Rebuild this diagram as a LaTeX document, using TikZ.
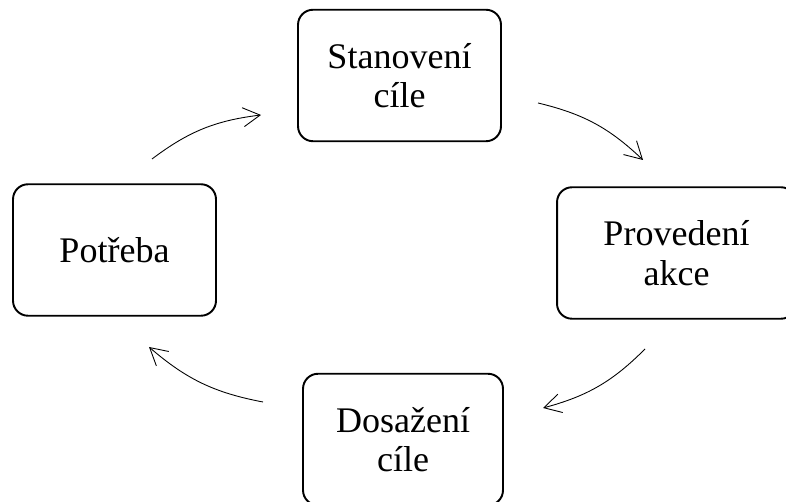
\documentclass[tikz,border=0pt]{standalone}
\usepackage{fontspec}
\setmainfont{Liberation Serif}
\usetikzlibrary{arrows.meta,calc}

\tikzset{
  phase/.style={draw, line width=1.1pt, rounded corners=0.3cm, align=center,
    minimum width=4.06cm, minimum height=2.63cm, inner sep=0pt,
    font=\fontsize{20.5}{22.5}\selectfont},
  cycle arrow/.style={-{Straight Barb[length=3.4mm,width=3.8mm]}, line width=0.5pt}
}

\begin{document}
\begin{tikzpicture}[x=0.02cm, y=0.02cm]
  \useasboundingbox (0,0) rectangle (786,502);
  \node[phase] (cil) at (399.5,426.5) {Stanovení\\cíle};
  \node[phase] (potreba) at (114.5,252) {Potřeba};
  \node[phase, minimum width=4.78cm] (akce) at (676.5,249) {Provedení\\akce};
  \node[phase, minimum width=4.0cm] (dosazeni) at (403,62.5) {Dosažení\\cíle};
  \coordinate (A) at (152,343);
  \coordinate (B) at (261,387);
  \coordinate (C) at (538,399);
  \coordinate (D) at (643,342);
  \coordinate (E) at (645,153);
  \coordinate (F) at (543,94);
  \coordinate (G) at (263,100);
  \coordinate (H) at (149,155);
  \draw[cycle arrow] (A) to [bend left=15] (B);
  \draw[cycle arrow] (C) to [bend left=15] (D);
  \draw[cycle arrow] (E) to [bend left=15] (F);
  \draw[cycle arrow] (G) to [bend left=15] (H);
\end{tikzpicture}
\end{document}
